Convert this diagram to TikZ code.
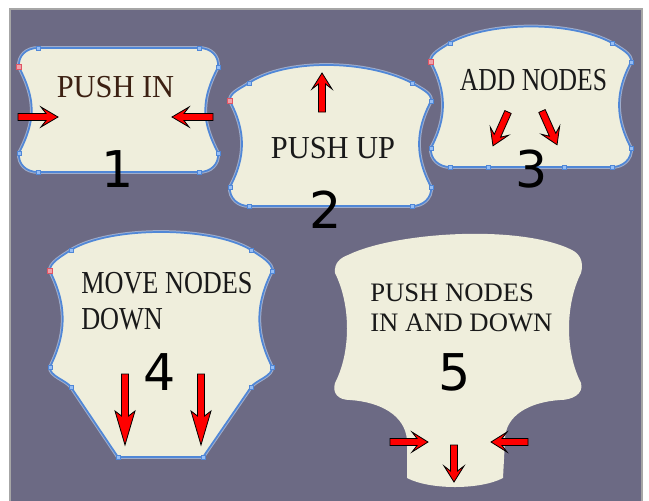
\documentclass[tikz,border=0pt]{standalone}
\usepackage{fontspec}
\setmainfont{Liberation Serif}
\newfontfamily\digitfont{DejaVu Sans}
\definecolor{slate}{RGB}{108,106,132}
\definecolor{cream}{RGB}{239,238,220}
\definecolor{edgeblue}{RGB}{80,135,215}
\definecolor{handleblue}{RGB}{150,190,245}
\definecolor{handlered}{RGB}{225,85,100}
\definecolor{inkbrown}{RGB}{60,32,18}
\tikzset{
  panel/.style={fill=cream, draw=edgeblue, line width=1.3pt,
    preaction={draw=edgeblue!45!slate!60!white, line width=2.8pt}},
  handle/.style={fill=handleblue, draw=edgeblue, line width=0.4pt},
  redhandle/.style={fill=handlered!55!white, draw=handlered, line width=0.5pt},
  tagtext/.style={font=\fontsize{24}{24}\selectfont, inner sep=0pt, anchor=base, text=black!90},
  bignum/.style={font=\digitfont\fontsize{38}{38}\selectfont, inner sep=0pt, anchor=base},
  pics/redarrow/.style 2 args={code={
    \filldraw[fill=red, draw=black, line width=0.6pt, line join=miter]
      (0,-3.5) -- ({#1-#2+5},-3.5) -- ({#1-#2},-10) -- (#1,0)
      -- ({#1-#2},10) -- ({#1-#2+5},3.5) -- (0,3.5) -- cycle;
  }}
}
\begin{document}
\begin{tikzpicture}[x=0.75pt, y=-0.75pt]
\useasboundingbox (0,0) rectangle (649,500);
\fill[white] (0,0) rectangle (649,500);
\filldraw[fill=slate, draw=gray!70, line width=0.8pt] (10,9) rectangle (642,502);

% 1: push in
\draw[panel] (19,67) .. controls (18,56) and (26,48) .. (38,48) -- (199,48)
  .. controls (211,48) and (219,56) .. (218,67)
  .. controls (201,100) and (201,120) .. (218,153)
  .. controls (219,164) and (211,172) .. (199,172) -- (38,172)
  .. controls (26,172) and (18,164) .. (19,153)
  .. controls (36,120) and (36,100) .. (19,67) -- cycle;
% 2: push up
\draw[panel] (230,101) .. controls (229,93) and (240,89) .. (249,83)
  .. controls (285,59) and (365,59) .. (412,83)
  .. controls (421,89) and (432,93) .. (431,101)
  .. controls (415,131) and (415,157) .. (431,187)
  .. controls (432,198) and (423,206) .. (412,206) -- (249,206)
  .. controls (238,206) and (229,198) .. (230,187)
  .. controls (246,157) and (246,131) .. (230,101) -- cycle;
% 3: add nodes
\draw[panel] (431,62) .. controls (430,54) and (441,49) .. (450,43)
  .. controls (490,21) and (572,21) .. (612,43)
  .. controls (621,49) and (632,54) .. (631,62)
  .. controls (615,92) and (615,118) .. (631,148)
  .. controls (632,159) and (623,167) .. (612,167) -- (450,167)
  .. controls (439,167) and (430,159) .. (431,148)
  .. controls (447,118) and (447,92) .. (431,62) -- cycle;
% 4: move nodes down
\draw[panel] (50,271) .. controls (49,263) and (62,256) .. (71,250)
  .. controls (110,226) and (212,226) .. (251,250)
  .. controls (260,256) and (273,263) .. (272,271)
  .. controls (255,305) and (255,333) .. (272,367)
  .. controls (273,376) and (256,380) .. (251,387)
  -- (203,457) -- (118,457) -- (71,387)
  .. controls (66,380) and (49,376) .. (50,367)
  .. controls (67,333) and (67,305) .. (50,271) -- cycle;
% 5: finished shape
\fill[cream] (335,273) .. controls (334,263) and (340,258) .. (348,255)
  .. controls (395,232) and (520,224) .. (572,250)
  .. controls (580,254) and (584,262) .. (581,273)
  .. controls (565,305) and (565,352) .. (581,383)
  .. controls (584,394) and (572,400) .. (560,400)
  .. controls (530,402) and (505,415) .. (505,440) -- (503,478)
  .. controls (480,490) and (430,490) .. (407,478) -- (407,440)
  .. controls (405,415) and (380,402) .. (350,400)
  .. controls (338,400) and (332,393) .. (335,383)
  .. controls (351,352) and (351,305) .. (335,273) -- cycle;

% handles
\foreach \x/\y in {38/48,199/48,218/67,218/153,199/172,38/172,19/153,
  249/83,412/83,431/101,431/187,412/206,249/206,230/187,
  450/43,612/43,631/62,631/148,612/167,564/167,488/167,450/167,431/148,
  71/250,251/250,272/271,272/367,251/387,203/457,118/457,71/387,50/367}
  \filldraw[handle] (\x-2.2,\y-2.2) rectangle (\x+2.2,\y+2.2);
\foreach \x/\y in {19/67,230/101,431/62,50/271}
  \filldraw[redhandle] (\x-2.5,\y-2.5) rectangle (\x+2.5,\y+2.5);

% texts
\node[tagtext, text=inkbrown] (t1) at (115.5,97) {\scalebox{0.95}[1]{PUSH IN}};
\node[tagtext] (t2) at (333,158) {\scalebox{0.95}[1]{PUSH UP}};
\node[tagtext] (t3) at (533.5,90) {\scalebox{0.8}[1]{ADD NODES}};
\node[tagtext, anchor=base west] (t4a) at (81,293) {\scalebox{0.82}[1]{MOVE NODES}};
\node[tagtext, anchor=base west] (t4b) at (81,329) {\scalebox{0.82}[1]{DOWN}};
\node[tagtext, anchor=base west, font=\fontsize{20}{20}\selectfont] (t5a) at (370,301) {PUSH NODES};
\node[tagtext, anchor=base west, font=\fontsize{20}{20}\selectfont] (t5b) at (370,331) {IN AND DOWN};

\node[bignum] (n1) at (118,187) {1};
\node[bignum] (n2) at (326,228) {2};
\node[bignum] (n3) at (532,187) {3};
\node[bignum] (n4) at (160,390) {4};
\node[bignum] (n5) at (455,390) {5};

% arrows
\pic at (18,117) {redarrow={40}{17}};
\pic[rotate=180] at (213,117) {redarrow={41}{17}};
\pic[rotate=90] at (322,112) {redarrow={39}{16}};
\pic[rotate=-114] at (508,112) {redarrow={37}{16}};
\pic[rotate=-66] at (542,111) {redarrow={37}{16}};
\pic[rotate=-90] at (125,374) {redarrow={71}{34}};
\pic[rotate=-90] at (201,374) {redarrow={71}{34}};
\pic at (390,442) {redarrow={38}{16}};
\pic[rotate=180] at (528,442) {redarrow={37}{16}};
\pic[rotate=-90] at (454,445) {redarrow={37}{16}};
\end{tikzpicture}
\end{document}
